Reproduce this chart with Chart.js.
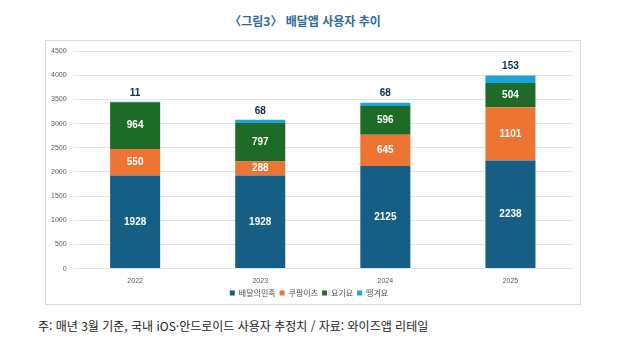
<!DOCTYPE html>
<html lang="ko">
<head>
    <meta charset="UTF-8">
    <title>배달앱 사용자 추이</title>
    <script src="https://cdn.jsdelivr.net/npm/chart.js"></script>
    <style>
        body {
            margin: 0;
            width: 620px;
            height: 351px;
            background: #fff;
            position: relative;
            font-family: "Noto Sans CJK KR", sans-serif;
        }
        #title {
            position: absolute;
            top: 12px;
            left: 0;
            width: 610px;
            text-align: center;
            font-size: 12px;
            font-weight: bold;
            color: #2f6b9e;
        }
        .chart-container {
            position: absolute;
            left: 45px;
            top: 40px;
            width: 536px;
            height: 265px;
            border: 1px solid #dcdcdc;
            box-sizing: border-box;
        }
        #note {
            position: absolute;
            left: 38px;
            top: 317px;
            font-size: 12px;
            color: #222;
        }
    </style>
</head>
<body>
    <div id="title">〈그림3〉 배달앱 사용자 추이</div>
    <div class="chart-container">
        <canvas id="usersChart"></canvas>
    </div>
    <div id="note">주: 매년 3월 기준, 국내 iOS·안드로이드 사용자 추정치 / 자료: 와이즈앱 리테일</div>

    <script>
        // 데이터 (단위: 만 명)
        const years = ['2022', '2023', '2024', '2025'];
        const baemin = [1928, 1928, 2125, 2238];
        const coupang = [550, 288, 645, 1101];
        const yogiyo = [964, 797, 596, 504];
        const ddang = [11, 68, 68, 153];
        const yTicks = [0, 500, 1000, 1500, 2000, 2500, 3000, 3500, 4000, 4500];

        // 막대 위 숫자 표시
        const labelPlugin = {
            id: 'barLabels',
            afterDatasetsDraw(chart) {
                const ctx = chart.ctx;
                ctx.save();
                ctx.textAlign = 'center';
                ctx.textBaseline = 'middle';
                ctx.font = 'bold 10px "Liberation Sans", Arial';
                chart.data.datasets.forEach((ds, i) => {
                    const meta = chart.getDatasetMeta(i);
                    meta.data.forEach((bar, j) => {
                        const v = ds.data[j];
                        if (i < 3) {
                            ctx.fillStyle = '#ffffff';
                            ctx.fillText(v, bar.x, (bar.y + bar.base) / 2);
                        } else {
                            ctx.fillStyle = '#0e2d4d';
                            ctx.fillText(v, bar.x, bar.y - 9);
                        }
                    });
                });
                ctx.restore();
            }
        };

        const ctx = document.getElementById('usersChart').getContext('2d');
        new Chart(ctx, {
            type: 'bar',
            data: {
                labels: years,
                datasets: [
                    { label: '배달의민족', data: baemin, backgroundColor: '#165e83' },
                    { label: '쿠팡이츠', data: coupang, backgroundColor: '#ed7433' },
                    { label: '요기요', data: yogiyo, backgroundColor: '#1e6b28' },
                    { label: '땡겨요', data: ddang, backgroundColor: '#1ca3dc' }
                ]
            },
            options: {
                responsive: true,
                maintainAspectRatio: false,
                animation: { duration: 0 },
                layout: { padding: { left: -1, right: 7, top: 4, bottom: -3 } },
                datasets: {
                    bar: { categoryPercentage: 0.8, barPercentage: 0.5 }
                },
                scales: {
                    x: {
                        stacked: true,
                        grid: { display: false },
                        border: { display: false },
                        ticks: { color: '#595959', font: { size: 7, family: '"Liberation Sans", Arial' }, padding: 0 }
                    },
                    y: {
                        stacked: true,
                        min: 0,
                        max: 4500,
                        afterBuildTicks: (axis) => { axis.ticks = yTicks.map(v => ({ value: v })); },
                        grid: { color: '#e3e3e3', drawTicks: false },
                        border: { display: false },
                        ticks: {
                            color: '#595959',
                            font: { size: 7, family: '"Liberation Sans", Arial' },
                            padding: 6,
                            callback: (v) => String(v)
                        }
                    }
                },
                plugins: {
                    legend: {
                        position: 'bottom',
                        labels: {
                            boxWidth: 5,
                            boxHeight: 5,
                            padding: 4,
                            color: '#505050',
                            font: { size: 8, family: '"Noto Sans CJK KR"' }
                        }
                    },
                    tooltip: { enabled: false }
                }
            },
            plugins: [labelPlugin]
        });
    </script>
</body>
</html>
